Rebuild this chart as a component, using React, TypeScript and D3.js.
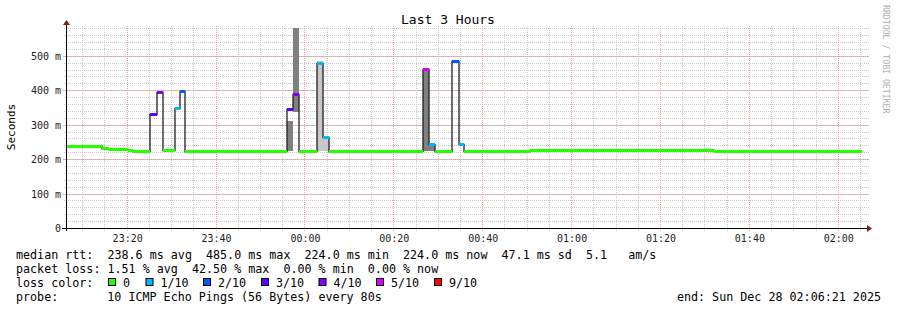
import React from "react";
import * as d3 from "d3";

// ---------- data ----------
const startTime = "23:06:21";
const endTime = "02:06:21";
const dataEnd = "02:05:21";

const segStarts = [
  "23:06:21", "23:14:31", "23:15:57", "23:20:14", "23:21:21",
  "23:25:19", "23:26:45", "23:28:07", "23:30:53", "23:31:56",
  "23:33:11", "23:56:01", "23:57:29", "23:58:50", "00:02:46",
  "00:04:07", "00:05:28", "00:26:37", "00:27:58", "00:29:19",
  "00:33:16", "00:34:40", "00:35:58", "00:50:45", "01:30:39", "01:32:03",
];
const medianMs = [
  238, 233, 228, 226, 224,
  330, 394, 225, 349, 397,
  224, 346, 390, 224, 480,
  265, 224, 462, 244, 224,
  485, 244, 224, 227, 225, 224,
];
const lossCount = [
  0, 0, 0, 0, 0,
  3, 4, 0, 1, 2,
  0, 3, 4, 0, 1,
  1, 0, 5, 1, 0,
  2, 1, 0, 0, 0, 0,
];

const smokeStart = ["23:56:01", "23:57:29", "00:02:46", "00:04:07", "00:26:37", "00:27:58", "00:33:16"];
const smokeEnd = ["23:57:29", "23:58:50", "00:04:07", "00:05:28", "00:27:58", "00:29:19", "00:34:40"];
const smokeLow = [224, 338, 224, 224, 224, 224, 484];
const smokeHigh = [310, 700, 485, 265, 464, 244, 489];
const smokeDark = [true, true, false, false, true, true, false];

const lossLevels = [0, 1, 2, 3, 4, 5, 9];
const lossLabels = ["0", "1/10", "2/10", "3/10", "4/10", "5/10", "9/10"];
const lossColors = ["#26ff00", "#00b8ff", "#0059ff", "#5e00ff", "#7e00ff", "#dd00ff", "#ff0000"];

const yMajorTicks = [0, 100, 200, 300, 400, 500];
const yMax = 580.5;

const titleText = "Last 3 Hours";
const legendRtt = "median rtt:  238.6 ms avg  485.0 ms max  224.0 ms min  224.0 ms now  47.1 ms sd  5.1   am/s";
const legendLoss = "packet loss: 1.51 % avg  42.50 % max  0.00 % min  0.00 % now";
const legendProbeLabel = "probe:";
const legendProbe = "10 ICMP Echo Pings (56 Bytes) every 80s";
const legendEnd = "end: Sun Dec 28 02:06:21 2025";

// ---------- helpers ----------
function toDate(s: string): Date {
  const [h, m, sec] = s.split(":").map(Number);
  const day = h >= 12 ? 27 : 28;
  return new Date(2025, 11, day, h, m, sec);
}

const FONT = "DejaVu Sans Mono, monospace";

export default function App() {
  const W = 897, H = 310;
  const L = 66, R = 866, T = 28, B = 228;
  const x = d3.scaleTime().domain([toDate(startTime), toDate(endTime)]).range([L, R]);
  const y = d3.scaleLinear().domain([0, yMax]).range([B, T]);

  const px = (v: number) => Math.round(v) + 0.5;

  const minorX = x.ticks(d3.timeMinute.every(5) as any);
  const majorX = x.ticks(d3.timeMinute.every(20) as any);
  const minorY = d3.range(0, yMax, 20);
  const fmt = d3.timeFormat("%H:%M");

  const segs = segStarts.map((s, i) => ({
    t0: toDate(s),
    t1: toDate(i + 1 < segStarts.length ? segStarts[i + 1] : dataEnd),
    v: medianMs[i],
    loss: lossCount[i],
  }));

  const linePts: [Date, number][] = segs.map((d) => [d.t0, d.v]);
  linePts.push([toDate(dataEnd), medianMs[medianMs.length - 1]]);
  const line = d3
    .line<[Date, number]>()
    .x((d) => Math.round(x(d[0])))
    .y((d) => Math.round(y(d[1])) + 0.5)
    .curve(d3.curveStepAfter);

  const colorFor = (loss: number) => {
    const idx = lossLevels.findIndex((l) => loss <= l);
    return lossColors[idx < 0 ? lossColors.length - 1 : idx];
  };

  const legendBoxX = [108, 145.5, 203, 261, 318.5, 376, 434];

  return (
    <svg
      width={W}
      height={H}
      style={{ position: "absolute", left: 0, top: 0, background: "#fff" }}
      xmlns="http://www.w3.org/2000/svg"
    >
      <rect x={0} y={0} width={W} height={H} fill="#fff" />
      <defs>
        <clipPath id="plot">
          <rect x={L} y={T} width={R - L} height={B - T} />
        </clipPath>
      </defs>

      {/* grid minor */}
      {minorY.map((v) => (
        <line key={"gy" + v} x1={L - 2} x2={R + 3} y1={px(y(v))} y2={px(y(v))}
          stroke="#c8c8c8" strokeDasharray="1,1" />
      ))}
      {minorX.map((d, i) => (
        <line key={"gx" + i} x1={px(x(d))} x2={px(x(d))} y1={T - 2} y2={B + 3}
          stroke="#c8c8c8" strokeDasharray="1,1" />
      ))}
      {/* grid major */}
      {yMajorTicks.map((v) => (
        <line key={"my" + v} x1={L - 3} x2={R + 3} y1={px(y(v))} y2={px(y(v))}
          stroke="#f0a0a0" strokeDasharray="1,1" />
      ))}
      {majorX.map((d, i) => (
        <line key={"mx" + i} x1={px(x(d))} x2={px(x(d))} y1={T - 2} y2={B + 3}
          stroke="#f0a0a0" strokeDasharray="1,1" />
      ))}

      {/* smoke */}
      <g clipPath="url(#plot)">
        {smokeStart.map((s, i) => {
          const x0 = Math.round(x(toDate(s)));
          const x1 = Math.round(x(toDate(smokeEnd[i])));
          const y0 = Math.round(y(smokeHigh[i]));
          const y1 = Math.round(y(smokeLow[i]));
          return (
            <rect key={"s" + i} x={x0} y={y0} width={x1 - x0} height={y1 - y0}
              fill={smokeDark[i] ? "#808080" : "#c8c8c8"} />
          );
        })}
      </g>

      {/* median line */}
      <path d={line(linePts) || ""} fill="none" stroke="#202020" strokeWidth={1.3} />
      {/* loss colored bands */}
      {segs.map((d, i) => {
        const x0 = Math.round(x(d.t0));
        const x1 = Math.round(x(d.t1));
        const yc = Math.round(y(d.v)) + 0.5;
        return (
          <rect key={"b" + i} x={x0} y={yc - 1.5} width={x1 - x0} height={3} fill={colorFor(d.loss)} />
        );
      })}

      {/* axes */}
      <line x1={L - 4} x2={R + 1} y1={B + 0.5} y2={B + 0.5} stroke="#000" />
      <line x1={L + 0.5} x2={L + 0.5} y1={B + 3} y2={T - 3} stroke="#000" />
      <path d={`M${R + 1},${B - 3} L${R + 6},${B + 0.5} L${R + 1},${B + 4} Z`} fill="#8b1a1a" />
      <path d={`M${L - 3},${T - 3} L${L + 0.5},${T - 8} L${L + 4},${T - 3} Z`} fill="#8b1a1a" />

      {/* y tick labels */}
      {yMajorTicks.map((v) => (
        <text key={"yl" + v} x={61} y={Math.round(y(v)) + 4} textAnchor="end"
          fontFamily={FONT} fontSize={10} fill="#222" style={{ whiteSpace: "pre" }}>
          {v === 0 ? "0" : `${v} m`}
        </text>
      ))}
      {/* x tick labels */}
      {majorX.map((d, i) => (
        <text key={"xl" + i} x={x(d) + 1} y={241.5} textAnchor="middle"
          fontFamily={FONT} fontSize={10} fill="#222">
          {fmt(d)}
        </text>
      ))}

      {/* title */}
      <text x={448} y={24} textAnchor="middle" fontFamily={FONT} fontSize={13} fill="#000">
        {titleText}
      </text>
      {/* y label */}
      <text transform="translate(15,127) rotate(-90)" textAnchor="middle"
        fontFamily={FONT} fontSize={11} fill="#000">
        Seconds
      </text>
      {/* watermark */}
      <text transform="translate(883,5) rotate(90)" textAnchor="start"
        fontFamily={FONT} fontSize={8.2} fill="#b0b0b0">
        RRDTOOL / TOBI OETIKER
      </text>

      {/* legend */}
      <g fontFamily={FONT} fontSize={11.7} fill="#000" style={{ whiteSpace: "pre" }}>
        <text x={16} y={258.5} xmlSpace="preserve">{legendRtt}</text>
        <text x={16} y={272.5} xmlSpace="preserve">{legendLoss}</text>
        <text x={16} y={286.5} xmlSpace="preserve">loss color:</text>
        {lossLabels.map((lab, i) => (
          <g key={"lg" + i}>
            <rect x={legendBoxX[i] + 0.5} y={278.5} width={7} height={7}
              fill={lossColors[i]} stroke="#000" strokeWidth={1} />
            <text x={legendBoxX[i] + 15} y={286.5}>{lab}</text>
          </g>
        ))}
        <text x={16} y={300.5}>{legendProbeLabel}</text>
        <text x={107.3} y={300.5} xmlSpace="preserve">{legendProbe}</text>
        <text x={881} y={300.5} textAnchor="end">{legendEnd}</text>
      </g>
    </svg>
  );
}
